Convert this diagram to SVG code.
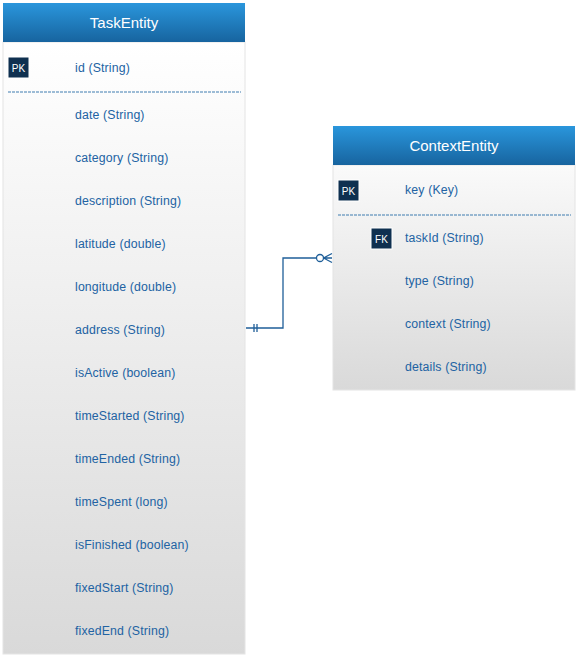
<svg xmlns="http://www.w3.org/2000/svg" width="578" height="657" viewBox="0 0 578 657">
<defs>
<linearGradient id="hdr" x1="0" y1="0" x2="0" y2="1"><stop offset="0" stop-color="#2a96dc"/><stop offset="1" stop-color="#17649f"/></linearGradient>
<linearGradient id="body1" x1="0" y1="0" x2="0" y2="1"><stop offset="0" stop-color="#ffffff"/><stop offset="1" stop-color="#d9d9d9"/></linearGradient>
<linearGradient id="body2" x1="0" y1="0" x2="0" y2="1"><stop offset="0" stop-color="#fafafa"/><stop offset="1" stop-color="#d9d9d9"/></linearGradient>
<style>
.t{font-family:"Liberation Sans",Arial,sans-serif;font-size:12.3px;letter-spacing:0.15px;fill:#2263a3}
.h{font-family:"Liberation Sans",Arial,sans-serif;font-size:15px;fill:#ffffff;text-anchor:middle}
.b{fill:#0f3050;stroke:#ffffff;stroke-width:1}
.bt{font-family:"Liberation Sans",Arial,sans-serif;font-size:10px;fill:#ffffff;text-anchor:middle}
.d{stroke:#3f7cb0;stroke-width:1;stroke-dasharray:3,1}
.c{fill:none;stroke:#1f5f99;stroke-width:1.3}
</style>
</defs>
<g id="TaskEntity">
<rect x="3" y="42" width="242" height="612" fill="url(#body1)" stroke="#e4e4e4"/>
<rect x="3" y="3" width="242" height="39" fill="url(#hdr)"/>
<text class="h" x="124" y="28">TaskEntity</text>
<rect class="b" x="8" y="57" width="21" height="21"/>
<text class="bt" x="18.5" y="71.5">PK</text>
<text class="t" x="75" y="72">id (String)</text>
<line class="d" x1="8" y1="92" x2="241" y2="92"/>
<text class="t" x="75" y="119">date (String)</text>
<text class="t" x="75" y="162">category (String)</text>
<text class="t" x="75" y="205">description (String)</text>
<text class="t" x="75" y="248">latitude (double)</text>
<text class="t" x="75" y="291">longitude (double)</text>
<text class="t" x="75" y="334">address (String)</text>
<text class="t" x="75" y="377">isActive (boolean)</text>
<text class="t" x="75" y="420">timeStarted (String)</text>
<text class="t" x="75" y="463">timeEnded (String)</text>
<text class="t" x="75" y="506">timeSpent (long)</text>
<text class="t" x="75" y="549">isFinished (boolean)</text>
<text class="t" x="75" y="592">fixedStart (String)</text>
<text class="t" x="75" y="635">fixedEnd (String)</text>
</g>
<g id="ContextEntity">
<rect x="333" y="165" width="242" height="225" fill="url(#body2)" stroke="#e4e4e4"/>
<rect x="333" y="126" width="242" height="39" fill="url(#hdr)"/>
<text class="h" x="454" y="151">ContextEntity</text>
<rect class="b" x="338" y="180" width="21" height="21"/>
<text class="bt" x="348.5" y="194.5">PK</text>
<text class="t" x="405" y="194">key (Key)</text>
<line class="d" x1="338" y1="215" x2="571" y2="215"/>
<rect class="b" x="371" y="228" width="21" height="21"/>
<text class="bt" x="381.5" y="242.5">FK</text>
<text class="t" x="405" y="242">taskId (String)</text>
<text class="t" x="405" y="285">type (String)</text>
<text class="t" x="405" y="328">context (String)</text>
<text class="t" x="405" y="371">details (String)</text>
</g>
<g id="connectors">
<path class="c" d="M246,328 H283 V258 H317"/>
<line class="c" x1="254" y1="324" x2="254" y2="332"/>
<line class="c" x1="257" y1="324" x2="257" y2="332"/>
<circle class="c" cx="320" cy="258" r="3.5" fill="#ffffff"/>
<path class="c" d="M323.5,258 H332 M323.5,258 L332,253.5 M323.5,258 L332,262.5"/>
</g>
</svg>
